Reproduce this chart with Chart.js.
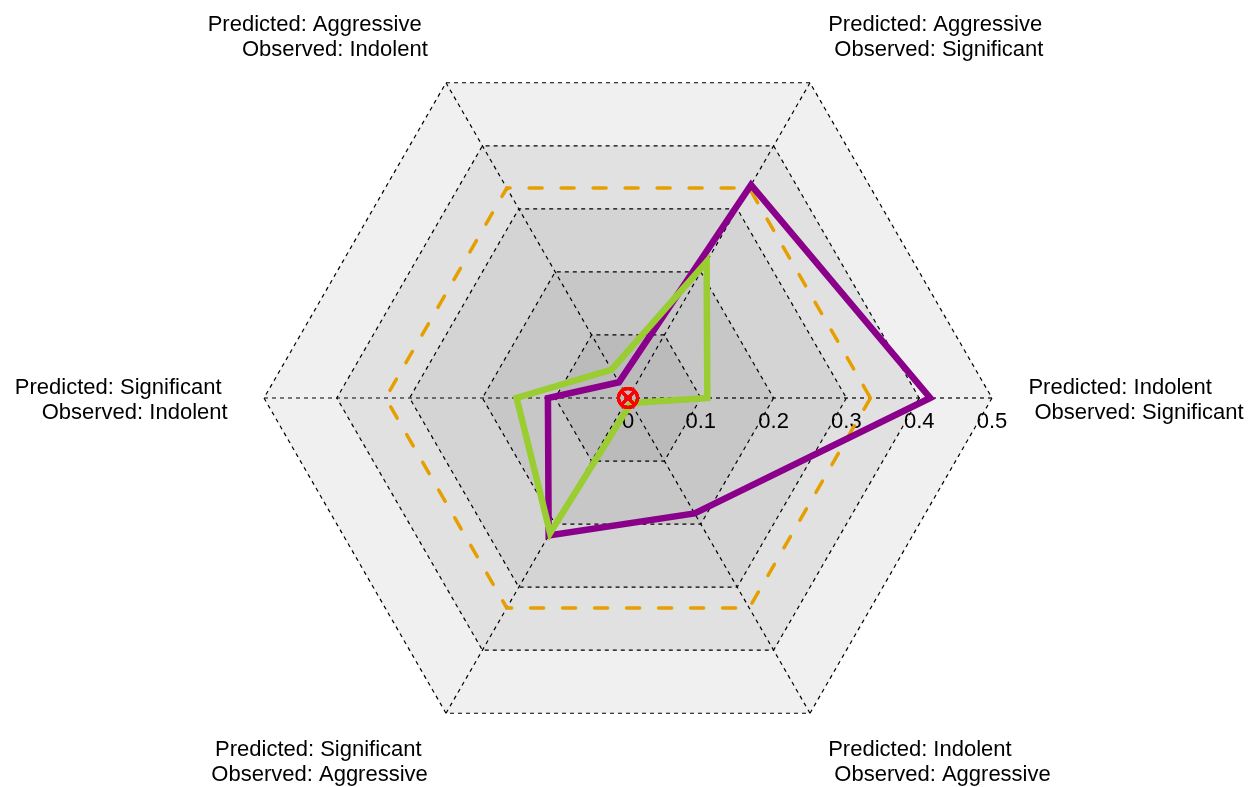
<!DOCTYPE html>
<html>
<head>
<meta charset="utf-8">
<script src="https://cdn.jsdelivr.net/npm/chart.js@4.4.1/dist/chart.umd.min.js"></script>
<style>
  html, body { margin: 0; padding: 0; background: #ffffff; }
  #wrap { width: 1249px; height: 787px; position: relative; }
</style>
</head>
<body>
<div id="wrap"><canvas id="radarChart"></canvas></div>
<script>
// axes go clockwise from the right-hand spoke
const predicted = ['Indolent', 'Indolent', 'Significant', 'Significant', 'Aggressive', 'Aggressive'];
const observed = ['Significant', 'Aggressive', 'Aggressive', 'Indolent', 'Indolent', 'Significant'];
const tickValues = [0, 0.1, 0.2, 0.3, 0.4, 0.5];
const tickLabels = ['0', '0.1', '0.2', '0.3', '0.4', '0.5'];
const purpleValues = [0.415, 0.183, 0.218, 0.110, 0.025, 0.338];
const greenValues = [0.109, 0.008, 0.214, 0.153, 0.045, 0.216];
const chanceValues = [0.333, 0.333, 0.333, 0.333, 0.333, 0.333];
const zeroValues = [0, 0, 0, 0, 0, 0];

const labelFont = '22px "Liberation Sans", Arial, Helvetica, sans-serif';
const bandColors = ['#f0f0f0', '#e1e1e1', '#d4d4d4', '#c7c7c7', '#bbbbbb'];

// shaded rings, tick labels and axis labels drawn off the radial scale
const radarDecor = {
    id: 'radarDecor',
    beforeDraw(chart) {
        const scale = chart.scales.r;
        const ctx = chart.ctx;
        const n = chart.data.labels.length;
        ctx.save();

        for (let t = tickValues.length - 1; t > 0; t--) {
            const dist = scale.getDistanceFromCenterForValue(tickValues[t]);
            ctx.beginPath();
            for (let i = 0; i < n; i++) {
                const p = scale.getPointPosition(i, dist);
                if (i === 0) ctx.moveTo(p.x, p.y); else ctx.lineTo(p.x, p.y);
            }
            ctx.closePath();
            ctx.fillStyle = bandColors[tickValues.length - 1 - t];
            ctx.fill();
        }

        ctx.font = labelFont;
        ctx.fillStyle = '#000000';
        ctx.textBaseline = 'alphabetic';
        ctx.textAlign = 'center';
        tickValues.forEach((v, t) => {
            const p = scale.getPointPosition(0, scale.getDistanceFromCenterForValue(v));
            ctx.fillText(tickLabels[t], p.x, p.y + 29.5);
        });

        for (let i = 0; i < n; i++) {
            const px = scale.getPointPosition(i, scale.drawingArea * 1.10).x;
            const py = scale.getPointPosition(i, scale.drawingArea * 1.15).y;
            const lines = chart.data.labels[i];
            ctx.textAlign = px > scale.xCenter ? 'left' : 'right';
            ctx.fillText(lines[0], px, py - 4.5);
            ctx.fillText(lines[1], px, py + 20.5);
        }
        ctx.restore();
    }
};

function generateChart() {
    const context = document.getElementById('radarChart').getContext('2d');
    const labels = predicted.map((p, i) => ['Predicted: ' + p + ' ', ' Observed: ' + observed[i]]);

    new Chart(context, {
        type: 'radar',
        data: {
            labels: labels,
            datasets: [
                {
                    label: 'Zero',
                    data: zeroValues,
                    showLine: false,
                    pointStyle: 'crossRot',
                    pointRadius: 10.5,
                    pointBorderColor: '#ff0000',
                    pointBorderWidth: 2.8,
                    order: 0
                },
                {
                    label: 'Zero ring',
                    data: zeroValues,
                    showLine: false,
                    pointStyle: 'circle',
                    pointRadius: 9.5,
                    pointBorderColor: '#ff0000',
                    pointBackgroundColor: 'rgba(0,0,0,0)',
                    pointBorderWidth: 2.8,
                    order: 0
                },
                {
                    label: 'Green',
                    data: greenValues,
                    fill: false,
                    borderColor: '#9acd32',
                    borderWidth: 6.5,
                    pointRadius: 0,
                    order: 1
                },
                {
                    label: 'Purple',
                    data: purpleValues,
                    fill: false,
                    borderColor: '#8b008b',
                    borderWidth: 6.5,
                    pointRadius: 0,
                    order: 2
                },
                {
                    label: 'Chance',
                    data: chanceValues,
                    fill: false,
                    borderColor: '#e69f00',
                    borderWidth: 3.5,
                    borderDash: [13, 19],
                    borderCapStyle: 'round',
                    pointRadius: 0,
                    order: 3
                }
            ]
        },
        options: {
            responsive: true,
            maintainAspectRatio: false,
            animation: false,
            events: [],
            layout: {
                padding: { left: 264, right: 257, top: 34, bottom: 25 }
            },
            plugins: {
                legend: { display: false },
                tooltip: { enabled: false }
            },
            scales: {
                r: {
                    min: 0,
                    max: 0.5,
                    startAngle: 90,
                    ticks: { display: false, stepSize: 0.1 },
                    pointLabels: { display: false },
                    grid: { color: '#000000', lineWidth: 1.2 },
                    border: { dash: [4, 4] },
                    angleLines: { color: '#000000', lineWidth: 1.2, borderDash: [4, 4] }
                }
            }
        },
        plugins: [radarDecor]
    });
}

generateChart();
</script>
</body>
</html>
